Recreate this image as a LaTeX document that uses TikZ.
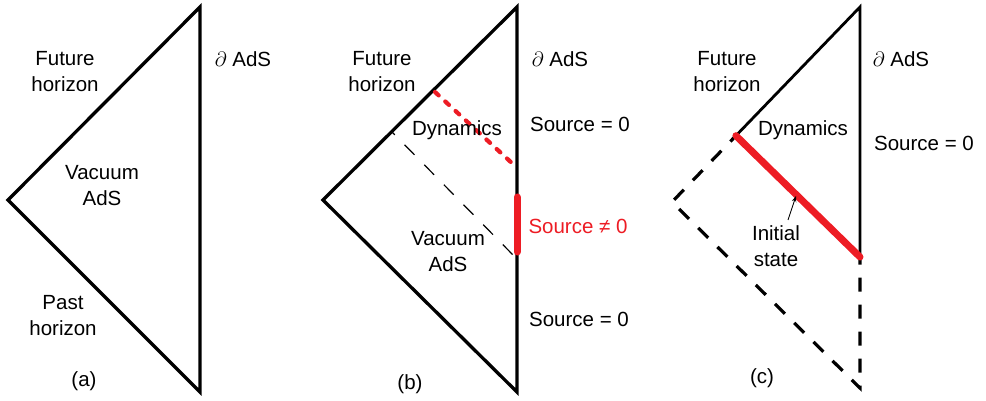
\documentclass[tikz,border=0pt]{standalone}
\usepackage{fontspec}
\setmainfont{Liberation Sans}
\usetikzlibrary{arrows.meta,calc}
\definecolor{srcred}{RGB}{237,28,36}
\begin{document}
\begin{tikzpicture}[x=1pt,y=-1pt,
  lbl/.style={font=\fontsize{20.5}{26}\selectfont, align=center, inner sep=0pt},
  edge/.style={line width=3.3pt, line join=miter, line cap=round},
  thinedge/.style={line width=2.8pt, line join=miter, line cap=round},
  reddot/.style={srcred, line width=4.2pt, line cap=round, dash pattern=on 5pt off 9pt},
  thindash/.style={black, line width=1.2pt, dash pattern=on 14pt off 14pt, dash phase=10pt},
  thickdash/.style={black, line width=3.2pt, dash pattern=on 14pt off 13pt, dash phase=6pt, line join=miter},
  redthick/.style={srcred, line width=7pt, line cap=round},
  pointer/.style={line width=0.9pt, -{Stealth[length=6pt,width=4.5pt]}}]
\useasboundingbox (0,0) rectangle (986,401);

% ---------- panel (a)
\coordinate (aT) at (200,7);
\coordinate (aL) at (8,200);
\coordinate (aB) at (200,392);
\draw[edge] (aT) -- (aL) -- (aB) -- cycle;
\node[lbl] (aFut) at (65,72) {Future\\horizon};
\node[lbl] (aBd) at (243,59) {$\partial$ AdS};
\node[lbl] (aVac) at (102,186) {Vacuum\\AdS};
\node[lbl] (aPast) at (63,316) {Past\\horizon};
\node[lbl] (aCap) at (84,381) {(a)};

% ---------- panel (b)
\coordinate (bT) at (517,7);
\coordinate (bL) at (323,200);
\coordinate (bB) at (517,392);
\draw[edge] (bT) -- (bL) -- (bB) -- cycle;
\coordinate (bR1) at (435,92);
\coordinate (bR2) at (514,165);
\draw[reddot] (bR1) -- (bR2);
\coordinate (bD1) at (392,132);
\coordinate (bD2) at (515,257);
\draw[thindash] (bD1) -- (bD2);
\coordinate (bS1) at (517,197);
\coordinate (bS2) at (517,252);
\draw[redthick] (bS1) -- (bS2);
\node[lbl] (bFut) at (382,72) {Future\\horizon};
\node[lbl] (bBd) at (560,59) {$\partial$ AdS};
\node[lbl] (bDyn) at (457,130) {Dynamics};
\node[lbl] (bSrc1) at (580,124) {Source = 0};
\node[lbl, text=srcred] (bSrc2) at (578,226) {Source ≠ 0};
\node[lbl] (bVac) at (448,252) {Vacuum\\AdS};
\node[lbl] (bSrc3) at (579,319) {Source = 0};
\node[lbl] (bCap) at (410,384) {(b)};

% ---------- panel (c)
\coordinate (cT) at (860,7);
\coordinate (cL) at (672,202);
\coordinate (cB) at (860,388);
\coordinate (cJ) at ($(cT)!0.66!(cL)$);
\coordinate (cM) at (860,257);
\draw[thickdash] (cJ) -- (cL) -- (cB) -- (cM);
\draw[thinedge] (cJ) -- (cT) -- (cM);
\draw[redthick] (cJ) -- (cM);
\node[lbl] (cFut) at (727,72) {Future\\horizon};
\node[lbl] (cBd) at (901,59) {$\partial$ AdS};
\node[lbl] (cDyn) at (803,130) {Dynamics};
\node[lbl] (cSrc) at (924,143) {Source = 0};
\node[lbl] (cInit) at (776,246) {Initial\\state};
\coordinate (cA1) at (788,220);
\coordinate (cA2) at (796,196);
\draw[pointer] (cA1) -- (cA2);
\node[lbl] (cCap) at (762,378) {(c)};
\end{tikzpicture}
\end{document}
